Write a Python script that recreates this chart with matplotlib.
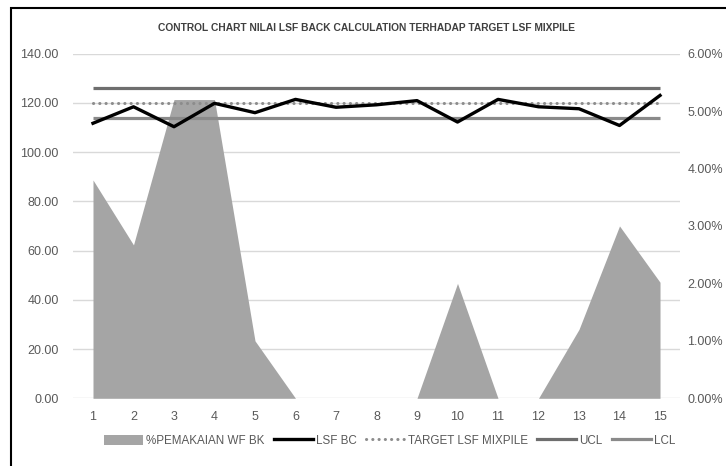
"""Control chart: LSF back calculation vs target LSF mixpile."""
import matplotlib
matplotlib.use("Agg")
import matplotlib.pyplot as plt
from matplotlib.patches import Rectangle
from matplotlib.ticker import FuncFormatter, MultipleLocator

plt.rcParams["font.family"] = ["Liberation Sans", "DejaVu Sans"]

points = list(range(1, 16))
pemakaian_wf_bk = [3.80, 2.67, 5.20, 5.20, 1.00, 0, 0, 0, 0, 2.00, 0, 0, 1.20, 3.00, 2.02]  # %
lsf_bc = [111.7, 118.4, 110.3, 119.8, 116.0, 121.4, 118.2, 119.2, 120.9,
          112.2, 121.4, 118.4, 117.6, 110.8, 123.0]
target_lsf = [120.0] * 15
ucl = [126.2] * 15
lcl = [113.9] * 15

DOTS = (0, (0.05, 2.0))

fig = plt.figure(figsize=(7.26, 4.66), dpi=100)
ax = fig.add_axes([0.1002, 0.1453, 0.8368, 0.7397])
ax2 = ax.twinx()

# area on the secondary axis, drawn behind the lines
ax2.fill_between(points, pemakaian_wf_bk, 0, color="#A5A5A5", lw=0, zorder=1)
ax2.set_ylim(0, 6)
ax2.yaxis.set_major_locator(MultipleLocator(1))
ax2.yaxis.set_major_formatter(FuncFormatter(lambda v, _: f"{v:.2f}%"))

ax.set_zorder(ax2.get_zorder() + 1)
ax.patch.set_visible(False)
ax2.patch.set_facecolor("white")

ax.plot(points, ucl, color="#6E6E6E", lw=2.3, solid_capstyle="butt", zorder=3)
ax.plot(points, lcl, color="#8A8A8A", lw=2.3, solid_capstyle="butt", zorder=3)
ax.plot(points, target_lsf, color="#8C8C8C", lw=2.2, ls=DOTS,
        dash_capstyle="round", zorder=4)
ax.plot(points, lsf_bc, color="black", lw=2.4, zorder=5)

ax.set_xlim(0.5, 15.5)
ax.set_ylim(0, 140)
ax.set_xticks(points)
ax.yaxis.set_major_locator(MultipleLocator(20))
ax.yaxis.set_major_formatter(FuncFormatter(lambda v, _: f"{v:.2f}"))

# horizontal gridlines live on the back axes so the area covers them
for v in range(0, 141, 20):
    ax2.axhline(v * 6 / 140, color="#D9D9D9", lw=1, zorder=0)

for a in (ax, ax2):
    for s in a.spines.values():
        s.set_visible(False)
    a.tick_params(length=0, labelsize=9, colors="#595959")
ax.tick_params(axis="y", pad=10)
ax.tick_params(axis="x", pad=9)
ax2.tick_params(axis="y", pad=5)

fig.text(0.505, 0.94, "CONTROL CHART NILAI LSF BACK CALCULATION TERHADAP TARGET LSF MIXPILE",
         ha="center", va="center", fontsize=7.4, fontweight="bold", color="#404040")

# legend with proxy handles
h_area = plt.Rectangle((0, 0), 1, 1, color="#A5A5A5", lw=0)
h_bc = plt.Line2D([], [], color="black", lw=2.4)
h_tgt = plt.Line2D([], [], color="#8C8C8C", lw=2.2, ls=DOTS, dash_capstyle="round")
h_ucl = plt.Line2D([], [], color="#6E6E6E", lw=2.3)
h_lcl = plt.Line2D([], [], color="#8A8A8A", lw=2.3)
fig.legend([h_area, h_bc, h_tgt, h_ucl, h_lcl],
           ["%PEMAKAIAN WF BK", "LSF BC", "TARGET LSF MIXPILE", "UCL", "LCL"],
           loc="center", bbox_to_anchor=(0.537, 0.054), ncol=5, frameon=False,
           fontsize=8.4, handlelength=3.3, handleheight=0.9, handletextpad=0.3,
           columnspacing=0.8, labelcolor="#595959")

fig.add_artist(Rectangle((11 / 726, -0.05), 1.0, 1 - 8 / 466 + 0.05,
                         transform=fig.transFigure, fill=False, edgecolor="black", lw=1.5))

fig.savefig("out.png", dpi=100)
